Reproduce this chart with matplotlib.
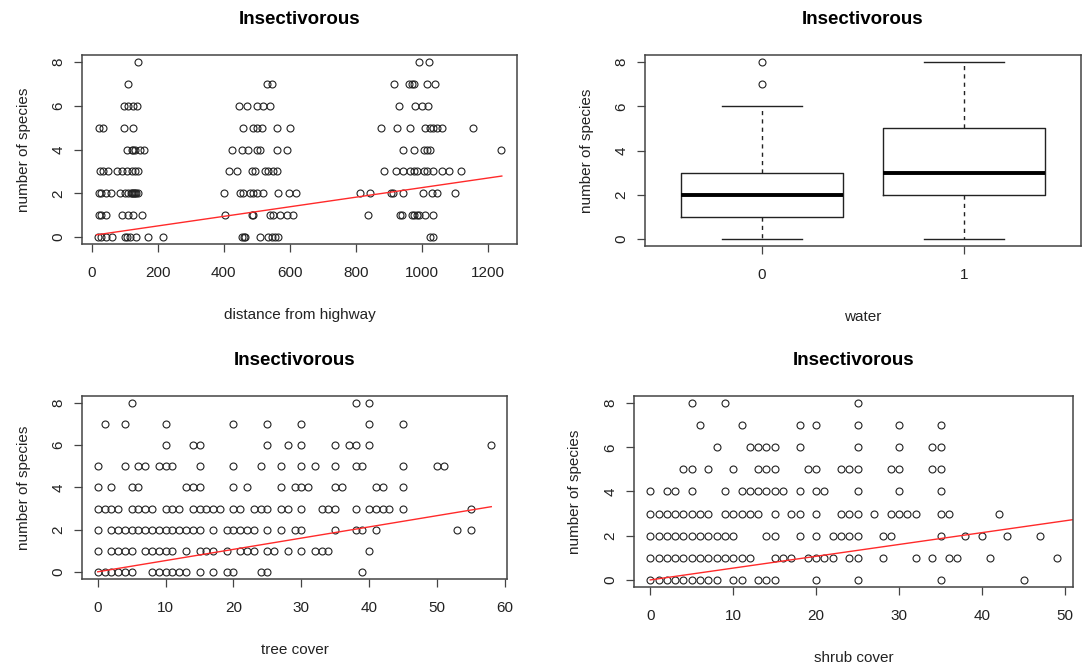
import numpy as np
import matplotlib
matplotlib.use("Agg")
import matplotlib.pyplot as plt

plt.rcParams['font.family'] = ['Liberation Sans', 'DejaVu Sans']

# species counts (key) -> x values observed at that count
highway_rows = {
    8: [141, 990, 1023],
    7: [111, 530, 547, 916, 962, 970, 977, 1017, 1040],
    6: [99, 111, 124, 139, 446, 472, 500, 520, 540, 931, 980, 999, 1018],
    5: [23, 35, 98, 126, 457, 490, 500, 515, 560, 601, 877, 924, 965, 1008,
        1025, 1035, 1045, 1061, 1155],
    4: [106, 121, 126, 131, 146, 158, 426, 455, 475, 500, 510, 560, 591, 944,
        975, 1005, 1015, 1025, 1239],
    3: [25, 35, 50, 78, 91, 106, 121, 131, 141, 416, 439, 485, 495, 525, 535,
        550, 560, 884, 922, 944, 965, 975, 985, 1005, 1015, 1035, 1061, 1081, 1119],
    2: [22, 30, 45, 58, 86, 101, 111, 118, 121, 124, 128, 131, 134, 141, 401,
        449, 457, 480, 490, 500, 520, 565, 599, 619, 813, 843, 907, 914, 944,
        1003, 1030, 1045, 1101],
    1: [23, 30, 45, 91, 111, 126, 152, 404, 485, 490, 540, 550, 571, 591, 611,
        838, 934, 939, 970, 975, 985, 990, 1010, 1035],
    0: [20, 30, 45, 61, 101, 106, 116, 134, 172, 215, 455, 460, 465, 510, 535,
        545, 555, 565, 1025, 1033],
}

water_stats = [
    dict(whislo=0, q1=1, med=2, q3=3, whishi=6, fliers=[7, 8], label='0'),
    dict(whislo=0, q1=2, med=3, q3=5, whishi=8, fliers=[], label='1'),
]

tree_rows = {
    8: [5, 38, 40],
    7: [1, 4, 10, 20, 25, 30, 40, 45],
    6: [10, 14, 15, 25, 28, 30, 35, 37, 38, 40, 58],
    5: [0, 4, 6, 7, 9, 10, 11, 15, 20, 24, 27, 30, 32, 35, 38, 39, 45, 50, 51],
    4: [0, 2, 5, 6, 13, 14, 15, 20, 22, 27, 29, 30, 31, 35, 36, 41, 42, 45],
    3: [0, 1, 2, 3, 5, 6, 7, 8, 10, 11, 12, 14, 15, 16, 17, 18, 20, 21, 23, 24,
        25, 27, 28, 30, 33, 34, 35, 38, 40, 41, 42, 43, 45, 55],
    2: [0, 2, 3, 4, 5, 6, 7, 8, 9, 10, 11, 12, 13, 14, 15, 17, 19, 20, 21, 22,
        23, 25, 27, 29, 30, 35, 38, 39, 41, 53, 55],
    1: [0, 2, 3, 4, 5, 7, 8, 9, 10, 11, 13, 15, 16, 17, 19, 21, 22, 23, 25, 26,
        28, 30, 32, 33, 34, 40],
    0: [0, 1, 2, 3, 4, 5, 8, 9, 10, 11, 12, 13, 15, 17, 19, 20, 24, 25, 39],
}

shrub_rows = {
    8: [5, 9, 25],
    7: [6, 11, 18, 20, 25, 30, 35],
    6: [8, 12, 13, 14, 15, 18, 25, 30, 34, 35],
    5: [4, 5, 7, 10, 13, 14, 15, 19, 20, 23, 24, 25, 29, 30, 34, 35],
    4: [0, 2, 3, 5, 9, 11, 12, 13, 14, 15, 16, 18, 20, 21, 25, 30, 35],
    3: [0, 1, 2, 3, 4, 5, 6, 7, 9, 10, 11, 12, 13, 15, 17, 18, 20, 23, 24, 25,
        27, 29, 30, 31, 32, 35, 36, 42],
    2: [0, 1, 2, 3, 4, 5, 6, 7, 8, 9, 10, 14, 15, 18, 20, 22, 23, 24, 25, 28,
        29, 35, 38, 40, 43, 47],
    1: [0, 1, 2, 3, 4, 5, 6, 7, 8, 9, 10, 11, 12, 15, 16, 17, 19, 20, 21, 22,
        24, 25, 28, 32, 34, 36, 37, 41, 49],
    0: [0, 1, 2, 3, 4, 5, 6, 7, 8, 10, 11, 13, 14, 15, 20, 25, 35, 45],
}

# fitted lines: (x start, x end, intercept, slope)
highway_fit = (15, 1242, 0.067, 0.00219)
tree_fit = (0, 58, 0.02, 0.0530)
shrub_fit = (0, 50.9, 0.0, 0.0535)

W, H = 1090, 666
fig = plt.figure(figsize=(W / 100, H / 100), dpi=100)


def box(left, top, right, bottom):
    return fig.add_axes([left / W, 1 - bottom / H, (right - left) / W, (bottom - top) / H])


def r_style(ax, xlabel, xticks, xlim):
    ax.set_title('Insectivorous', fontsize=13.5, fontweight='bold', pad=22)
    ax.set_xlabel(xlabel, fontsize=11, labelpad=20, color='#222222')
    ax.set_ylabel('number of species', fontsize=11, labelpad=15, color='#222222')
    ax.set_xticks(xticks)
    ax.set_yticks([0, 2, 4, 6, 8])
    ax.set_xlim(*xlim)
    ax.set_ylim(-0.32, 8.32)
    ax.tick_params(direction='out', length=6, width=0.9, color='#444444',
                   labelsize=11, labelcolor='#222222', pad=6)
    ax.tick_params(axis='x', pad=10)
    for lab in ax.get_yticklabels():
        lab.set_rotation(90)
        lab.set_va('center')
    for sp in ax.spines.values():
        sp.set_color('#444444')
        sp.set_linewidth(1.1)


def scatter_panel(ax, rows, fit):
    xs, ys = [], []
    for count, vals in rows.items():
        xs.extend(vals)
        ys.extend([count] * len(vals))
    ax.plot(xs, ys, 'o', ms=5, mfc='none', mec='#222222', mew=0.8, ls='none')
    x0, x1, b0, b1 = fit
    lx = np.array([x0, x1])
    ax.plot(lx, b0 + b1 * lx, color='#ff2a2a', lw=1.0, clip_on=True)


ax1 = box(82, 55, 517, 244)
scatter_panel(ax1, highway_rows, highway_fit)
r_style(ax1, 'distance from highway', range(0, 1201, 200), (-29, 1288))

ax2 = box(645, 55, 1081, 246)
ax2.bxp(water_stats, positions=[1, 2], widths=0.8, capwidths=0.4,
        boxprops=dict(color='#222222', lw=1.0),
        whiskerprops=dict(color='#222222', lw=1.0, linestyle=(0, (3, 3))),
        capprops=dict(color='#222222', lw=1.0),
        medianprops=dict(color='black', lw=2.8),
        flierprops=dict(marker='o', ms=5, mfc='none', mec='#222222', mew=0.8))
r_style(ax2, 'water', [1, 2], (0.42, 2.58))
ax2.set_xticklabels(['0', '1'])

ax3 = box(82, 396, 507, 579)
scatter_panel(ax3, tree_rows, tree_fit)
r_style(ax3, 'tree cover', range(0, 61, 10), (-2.32, 60.32))

ax4 = box(634, 396, 1073, 587)
scatter_panel(ax4, shrub_rows, shrub_fit)
r_style(ax4, 'shrub cover', range(0, 51, 10), (-1.96, 50.96))

fig.savefig('out.png', dpi=100)
